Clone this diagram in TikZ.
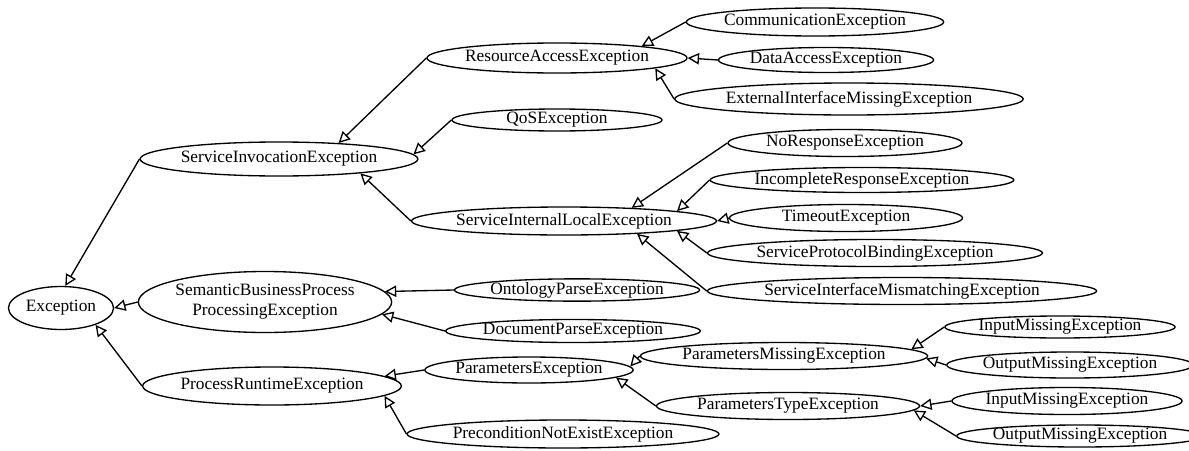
\documentclass[tikz,border=0pt]{standalone}
\usepackage{fontspec}
\setmainfont{Liberation Serif}
\usetikzlibrary{shapes.geometric,arrows.meta}
\begin{document}
\begin{tikzpicture}[x=0.75pt,y=-0.75pt,
  cls/.style={ellipse,draw,line width=1pt,inner sep=0pt,align=center,font=\fontsize{13}{15}\selectfont},
  sz/.style 2 args={minimum width=#1*0.75pt,minimum height=#2*0.75pt},
  inh/.style={line width=1pt,-{Triangle[open,length=8.5pt,width=8.5pt]}}]
\useasboundingbox (0,0) rectangle (1189,450);
% nodes
\node[cls,sz={105}{43}] (exc) at (61,308) {Exception};
\node[cls,sz={226}{61}] (sem) at (265,302) {SemanticBusinessProcess\\ProcessingException};
\node[cls,sz={212}{38}] (pre) at (272,386) {ProcessRuntimeException};
\node[cls,sz={226}{34}] (sie) at (279,159) {ServiceInvocationException};
\node[cls,sz={241}{30}] (rae) at (557,58) {ResourceAccessException};
\node[cls,sz={210}{22}] (qos) at (557,120) {QoSException};
\node[cls,sz={252}{28}] (sile) at (564,221) {ServiceInternalLocalException};
\node[cls,sz={216}{28}] (comm) at (815,22) {CommunicationException};
\node[cls,sz={215}{25}] (data) at (826,60) {DataAccessException};
\node[cls,sz={282}{32}] (ext) at (849,99) {ExternalInterfaceMissingException};
\node[cls,sz={234}{27}] (nores) at (845,143) {NoResponseException};
\node[cls,sz={271}{25}] (incomp) at (862,180) {IncompleteResponseException};
\node[cls,sz={233}{27}] (timeout) at (846,218) {TimeoutException};
\node[cls,sz={294}{27}] (spb) at (875,253) {ServiceProtocolBindingException};
\node[cls,sz={345}{27}] (sim) at (902,291) {ServiceInterfaceMismatchingException};
\node[cls,sz={233}{20}] (onto) at (577,290) {OntologyParseException};
\node[cls,sz={240}{23}] (doc) at (573,331) {DocumentParseException};
\node[cls,sz={208}{26}] (param) at (529,370) {ParametersException};
\node[cls,sz={277}{28}] (precond) at (563,434) {PreconditionNotExistException};
\node[cls,sz={262}{27}] (pmiss) at (784,356) {ParametersMissingException};
\node[cls,sz={263}{27}] (ptype) at (788,406) {ParametersTypeException};
\node[cls,sz={215}{22}] (in1) at (1060,327) {InputMissingException};
\node[cls,sz={235}{26}] (out1) at (1070,365) {OutputMissingException};
\node[cls,sz={219}{27}] (in2) at (1067,401) {InputMissingException};
\node[cls,sz={214}{22}] (out2) at (1080,436) {OutputMissingException};
% inheritance edges
\draw[inh] (sie.west) -- (exc.79);
\draw[inh] (sem.west) -- (exc.east);
\draw[inh] (pre.west) -- (exc.-26);
\draw[inh] (rae.west) -- (sie.15);
\draw[inh] (qos.west) -- (sie.2);
\draw[inh] (sile.west) -- (sie.-10);
\draw[inh] (comm.west) -- (rae.8);
\draw[inh] (data.west) -- (rae.east);
\draw[inh] (ext.west) -- (rae.-6);
\draw[inh] (nores.west) -- (sile.11);
\draw[inh] (incomp.west) -- (sile.5.5);
\draw[inh] (timeout.west) -- (sile.east);
\draw[inh] (spb.west) -- (sile.-5.6);
\draw[inh] (sim.west) -- (sile.-10.5);
\draw[inh] (onto.west) -- (sem.5);
\draw[inh] (doc.west) -- (sem.-6);
\draw[inh] (param.west) -- (pre.5);
\draw[inh] (precond.west) -- (pre.-5);
\draw[inh] (pmiss.west) -- (param.2.5);
\draw[inh] (ptype.west) -- (param.-5);
\draw[inh] (in1.west) -- (pmiss.3);
\draw[inh] (out1.west) -- (pmiss.-1);
\draw[inh] (in2.west) -- (ptype.0);
\draw[inh] (out2.west) -- (ptype.-2.5);
\end{tikzpicture}
\end{document}
